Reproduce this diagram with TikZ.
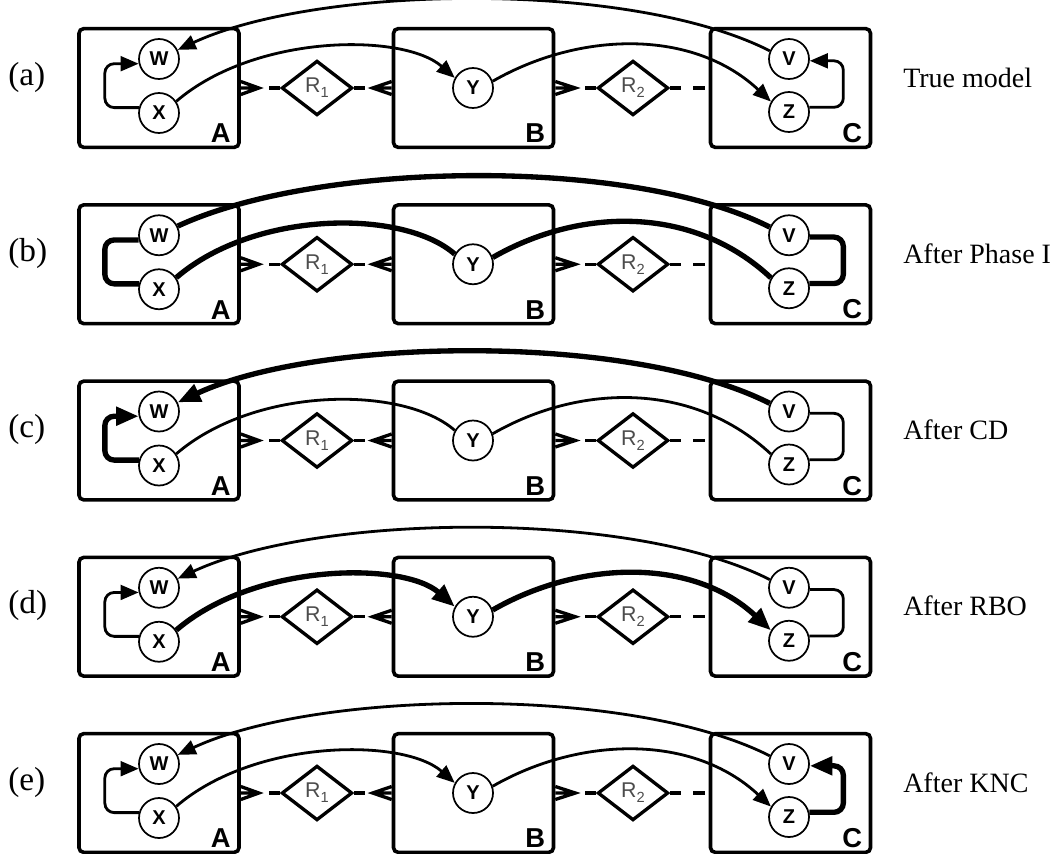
\documentclass[tikz,border=0pt]{standalone}
\usepackage{fontspec}
\setmainfont{Liberation Serif}
\newfontfamily\labelsans{Liberation Sans}
\usetikzlibrary{shapes.geometric,arrows.meta}

% one row of the figure: entities A, B, C, relationships R1, R2 and variables
% #1 row index, #2 row centre (px), #3 row letter, #4 caption
\newcommand\modelrow[4]{%
  \node[entity] (A#1) at (159,#2) {};
  \node[entity] (B#1) at (473.5,#2) {};
  \node[entity] (C#1) at (790.5,#2) {};
  \node[boxlab, anchor=south east] (Al#1) at ([shift={(-10,-6)}]A#1.south east) {A};
  \node[boxlab, anchor=south east] (Bl#1) at ([shift={(-10,-6)}]B#1.south east) {B};
  \node[boxlab, anchor=south east] (Cl#1) at ([shift={(-10,-6)}]C#1.south east) {C};
  \node[rel] (R1#1) at (317,#2) {R\relsub{1}};
  \node[rel] (R2#1) at (633,#2) {R\relsub{2}};
  \coordinate (fa#1) at ([shift={(18,0)}]A#1.east);
  \coordinate (fb#1) at ([shift={(-19,0)}]B#1.west);
  \coordinate (fc#1) at ([shift={(20,0)}]B#1.east);
  \draw[foot] ([shift={(0,-6.5)}]A#1.east) -- (fa#1) -- ([shift={(0,6.5)}]A#1.east) (A#1.east) -- (fa#1);
  \draw[foot] ([shift={(0,-6.5)}]B#1.west) -- (fb#1) -- ([shift={(0,6.5)}]B#1.west) (B#1.west) -- (fb#1);
  \draw[foot] ([shift={(0,-6.5)}]B#1.east) -- (fc#1) -- ([shift={(0,6.5)}]B#1.east) (B#1.east) -- (fc#1);
  \draw[relline] (R1#1.west) -- (fa#1);
  \draw[relline] (R1#1.east) -- (fb#1);
  \draw[relline] (R2#1.west) -- (fc#1);
  \draw[relline] (R2#1.east) -- (C#1.west);
  \node[var] (W#1) at (159,#2-29) {W};
  \node[var] (X#1) at (159,#2+25) {X};
  \node[var] (Y#1) at (473,#2) {Y};
  \node[var] (V#1) at (789,#2-29) {V};
  \node[var] (Z#1) at (789,#2+24) {Z};
  \node[rowlab] (lab#1) at (8,#2-3) {(#3)};
  \node[caption] (cap#1) at (903,#2-1) {#4};
}
% lowered small index in the relationship diamonds
\newcommand\relsub[1]{\raisebox{-0.45ex}{\fontsize{11}{11}\selectfont #1}}
% the five dependency edges of a row, each with its own style
\newcommand\modeledges[6]{%
  \draw[#2] (V#1.157) .. controls +(-140,-71) and +(140,-65) .. (W#1.26);
  \draw[#3, rounded corners=7pt] (X#1.165) -- ++(-34,0) |- (W#1.193);
  \draw[#4] (X#1.34) .. controls +(79,-68) and +(-51,-45) .. (Y#1.151);
  \draw[#5] (Y#1.19) .. controls +(87,-50) and +(-78,-73) .. (Z#1.150);
  \draw[#6, rounded corners=7pt] (Z#1.13) -- ++(34,0) |- (V#1.355);
}

\begin{document}
\begin{tikzpicture}[x=0.75pt, y=-0.75pt,
  entity/.style={draw, line width=2.7pt, rounded corners=3.5pt,
    minimum width=120pt, minimum height=89pt, inner sep=0pt},
  boxlab/.style={inner sep=0pt, font=\labelsans\bfseries\fontsize{20.5}{20.5}\selectfont},
  var/.style={circle, draw, fill=white, line width=1.3pt, minimum size=30pt,
    inner sep=0pt, font=\labelsans\bfseries\fontsize{15}{15}\selectfont},
  rel/.style={diamond, draw, line width=2.5pt, minimum width=53pt,
    minimum height=41pt, inner sep=0pt, text=black!70,
    font=\labelsans\fontsize{16}{16}\selectfont},
  foot/.style={line width=2.5pt},
  relline/.style={line width=2.5pt, dash pattern=on 8.5pt off 9pt},
  rowlab/.style={anchor=base west, inner sep=0pt, font=\fontsize{25}{25}\selectfont},
  caption/.style={anchor=base west, inner sep=0pt, font=\fontsize{21}{21}\selectfont},
  thin/.style={line width=2.1pt},
  thick/.style={line width=4pt},
  thinarr/.style={thin, -{Triangle[length=13.5pt, width=11pt]}},
  thickarr/.style={thick, -{Triangle[length=17pt, width=13.5pt]}},
]
\useasboundingbox (0,0) rectangle (1059,853);

\modelrow{1}{88}{a}{True model}
\modelrow{2}{264.25}{b}{After Phase I}
\modelrow{3}{440.5}{c}{After CD}
\modelrow{4}{616.75}{d}{After RBO}
\modelrow{5}{793}{e}{After KNC}

\modeledges{1}{thinarr}{thinarr}{thinarr}{thinarr}{thinarr}
\modeledges{2}{thick}{thick}{thick}{thick}{thick}
\modeledges{3}{thickarr}{thickarr}{thin}{thin}{thin}
\modeledges{4}{thinarr}{thinarr}{thickarr}{thickarr}{thin}
\modeledges{5}{thinarr}{thinarr}{thinarr}{thinarr}{thickarr}
\end{tikzpicture}
\end{document}
